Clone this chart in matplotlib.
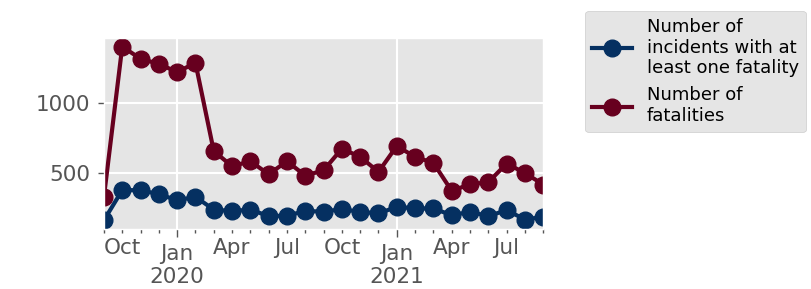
import numpy as np
import pandas as pd
import matplotlib
matplotlib.use('Agg')
import matplotlib.pyplot as plt

plt.style.use('ggplot')

# 月份 (2019-09 到 2021-09)
months = pd.date_range('2019-09-01', periods=25, freq='MS')

# 至少一人死亡的事件数
incidents = [164, 379, 379, 350, 307, 331, 240, 229, 240, 193, 197, 229, 226,
             243, 224, 212, 260, 248, 248, 200, 224, 193, 236, 169, 188]
# 死亡人数
fatalities = [331, 1407, 1319, 1283, 1224, 1290, 659, 550, 586, 493, 586, 483, 521,
              676, 617, 510, 695, 617, 574, 374, 421, 436, 569, 502, 419]

labels = ['Number of\nincidents with at\nleast one fatality',
          'Number of\nfatalities']
colors = ['#053061', '#67001f']

df = pd.DataFrame({labels[0]: incidents, labels[1]: fatalities}, index=months)

fig = plt.figure(figsize=(8.12, 2.89), dpi=100)
fig.patch.set_facecolor('white')
ax = fig.add_axes([0.128, 0.208, 0.541, 0.661])

df.plot(ax=ax, color=colors, lw=3, marker='o', markersize=12, legend=False)

ax.set_xlabel('')
ax.set_yticks([500, 1000])
ax.tick_params(axis='both', which='both', labelsize=15.5, labelcolor='#555555',
               color='#555555', width=1)
ax.tick_params(axis='y', which='major', length=4, pad=6)
ax.tick_params(axis='x', which='major', length=6, pad=5)
ax.tick_params(axis='x', which='minor', length=3)
ax.grid(True, which='major', color='white', lw=1.5)
ax.grid(False, which='minor')

# 图例放在右侧
leg = ax.legend(loc='upper left', bbox_to_anchor=(1.075, 1.19), fontsize=13,
                facecolor='#e5e5e5', edgecolor='#cccccc', framealpha=1,
                handlelength=2.2)

fig.savefig('out.png', dpi=100)
